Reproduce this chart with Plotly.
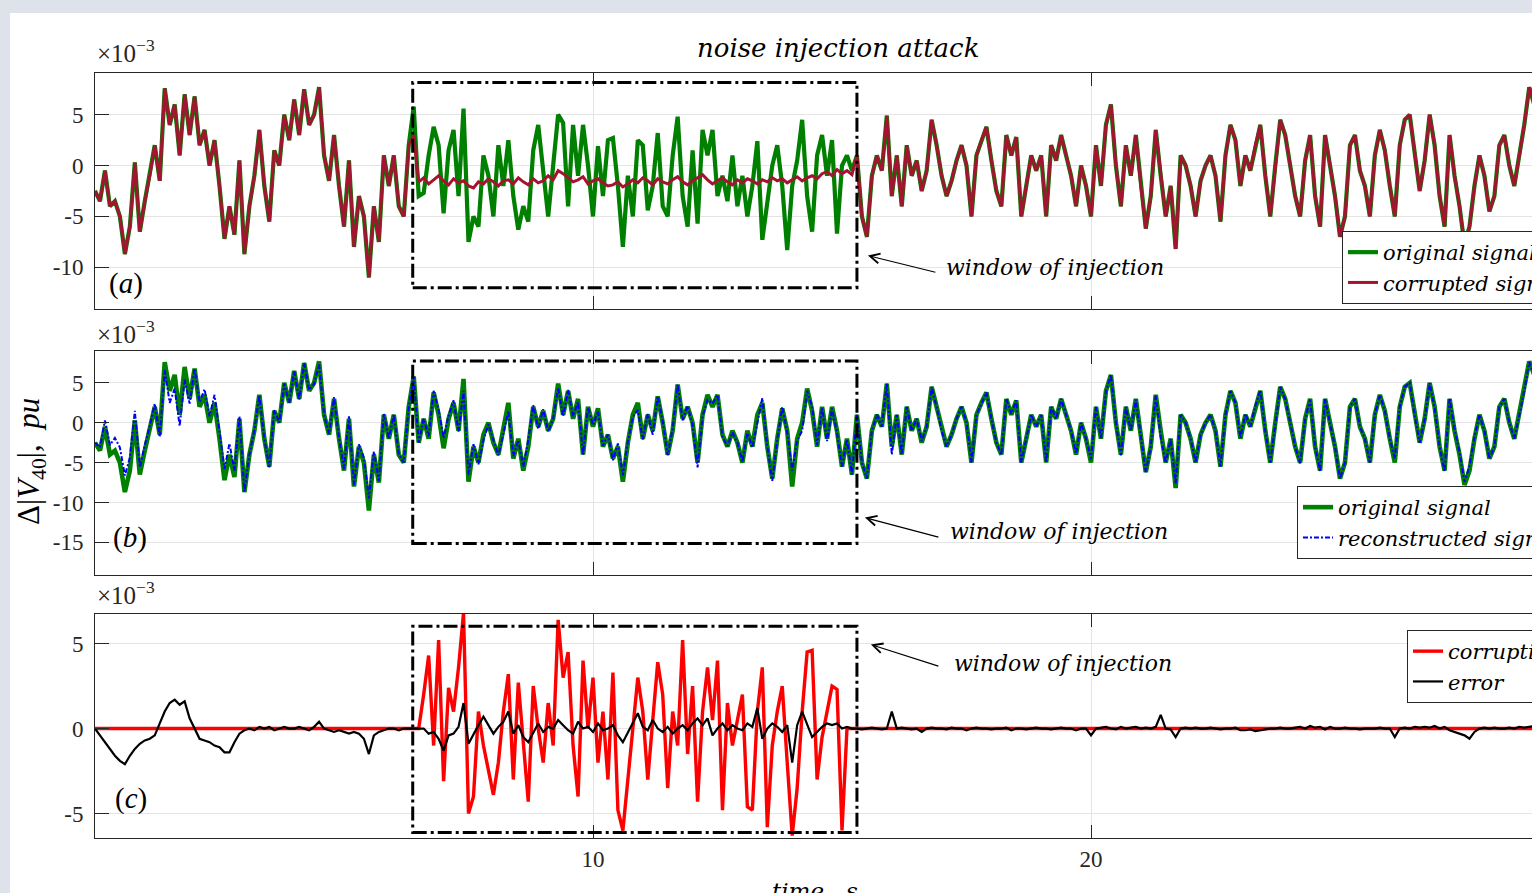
import numpy as np
import plotly.graph_objects as go

# ---------------- data (values in units of 1e-3 pu) ----------------
time_s = np.round(np.arange(0, 29.05, 0.1), 1)          # 0.0 ... 29.0 s
win_start, win_end = 6.38, 15.3                           # window of injection

# original signal (outside / inside / after the window)
original_pre = [-2.5, -3.5, -0.5, -4.0, -3.5, -5.0, -8.7, -6.0, 0.3, -6.5,
                -3.5, -1.0, 2.0, -1.5, 7.6, 4.0, 6.0, 1.0, 7.0, 3.0,
                6.8, 2.0, 3.5, 0.0, 2.5, -2.0, -7.2, -4.0, -6.8, 0.5,
                -8.7, -4.0, -1.0, 3.5, -2.0, -5.5, 1.5, 0.0, 5.0, 2.5,
                6.5, 3.0, 7.5, 4.0, 5.0, 7.7, 1.0, -1.5, 3.0, -2.0,
                -6.0, 0.5, -8.0, -3.0, -5.0, -11.0, -4.0, -7.5, 1.0, -2.0,
                1.0, -4.0, -5.0, 2.0]
original_win = [5.8, -2.5, 0.5, -2.0, 3.8, 1.0,
                -3.2, 0.5, 2.5, -1.0, 5.5, -7.4, -3.0, -5.0, -1.5, 0.0,
                -2.5, -4.0, -1.0, 2.5, -4.5, -2.0, -6.0, -3.0, 2.0, -0.5,
                1.5, -1.0, 0.5, 4.9, 1.0, 4.0, 0.5, 3.0, -4.0, 2.0,
                -0.5, 1.8, -3.0, -1.5, -4.5, -3.0, -7.4, -2.5, 1.0, 2.5,
                -2.0, 1.0, -1.0, 3.3, 0.0, -4.0, -1.0, 4.8, 0.5, 2.0,
                0.0, -5.0, 1.0, 3.5, 2.0, 3.5, -1.5, -3.0, -1.0, -2.5,
                -5.0, -1.0, -3.0, 1.0, 2.5, -3.0, -7.0, -2.0, 1.8, -1.0,
                -8.0, -2.0, 0.0, 4.3, 1.5, -3.0, 2.0, -2.0, 2.0, -1.0,
                -5.5, -2.0, -6.5]
original_post = [1.0, -5.0, -7.0, -1.0, 1.0, -0.5, 4.9,
                 -3.0, 1.0, -4.0, 2.0, -1.0, 0.5, -2.5, -0.5, 4.5, 2.0,
                 -1.0, -3.0, -1.5, 0.5, 2.0, 0.0, -5.0, 1.0, 2.5, 3.8,
                 0.5, -2.5, -4.0, 3.0, 1.0, 2.8, -5.0, -2.0, 1.0, -0.5,
                 1.0, -5.0, 2.0, 0.5, 3.0, 1.0, -1.0, -4.0, 0.0, -2.0,
                 -5.0, 2.0, -2.0, 4.0, 6.0, 0.0, -4.0, 2.0, -1.0, 3.0,
                 -2.0, -6.2, -3.0, 3.5, -1.0, -5.0, -2.0, -8.2, 1.0, 0.0,
                 -2.0, -5.0, -1.5, 0.0, 1.0, -1.0, -5.5, 1.0, 4.0, 2.5,
                 -2.0, 1.0, -0.5, 2.0, 4.0, -1.0, -5.0, 0.0, 4.5, 3.0,
                 0.0, -3.0, -5.0, 0.5, 3.0, -3.0, -6.0, 3.0, 0.0, -3.0,
                 -7.0, -5.0, 2.0, 3.0, -0.5, -2.0, -5.0, 1.0, 3.5, 1.5,
                 -2.0, -5.0, 2.0, 4.5, 5.0, 1.0, -2.5, 0.5, 5.0, 2.0,
                 -3.0, -6.0, 3.0, -1.0, -4.0, -7.8, -6.0, -2.0, 1.0, -1.0,
                 -4.5, -3.0, 2.0, 3.0, 0.0, -2.0, 1.0, 4.0, 7.7, 6.0,
                 8.0]

# panel (a): signals inside the window
a_original_win = [5.8, -3.0, -2.7, 1.0, 3.8, 2.0,
                  -4.7, 1.5, 3.5, -3.0, 5.6, -7.5, -5.0, -6.0, 1.0, -1.0,
                  -5.0, 2.0, -2.0, 2.5, -3.0, -6.3, -4.0, -5.5, 1.5, 4.0,
                  -1.0, -5.0, 0.0, 5.0, 4.2, -4.0, 4.0, -1.0, 4.0, 0.0,
                  -5.0, 1.9, -3.0, 2.5, 2.7, -2.0, -8.0, -1.0, -5.0, 2.5,
                  2.0, -4.4, -2.0, 3.2, -4.0, -5.0, 1.0, 4.8, -3.0, -6.0,
                  1.5, -5.7, 3.5, 1.0, 3.5, -3.0, -1.0, -3.5, 1.0, -4.0,
                  -1.0, -5.0, -2.0, 2.4, -7.3, -4.0, 0.0, 2.0, -2.0, -8.3,
                  -2.0, 0.5, 4.5, -3.0, -6.5, 1.0, 3.0, -1.0, 2.5, -6.7,
                  0.0, 1.0, -0.5]
a_corrupted_win = [3.0, -1.6, -1.2, -1.8, -1.4, -1.0,
                   -1.5, -1.9, -1.3, -1.7, -1.5, -2.0, -2.2, -1.6, -1.8, -1.3,
                   -1.6, -2.0, -1.5, -1.4, -1.8, -1.2, -1.6, -1.9, -1.3, -1.7,
                   -1.5, -1.0, -1.4, -0.5, -0.8, -1.2, -1.6, -1.4, -1.1, -1.8,
                   -1.5, -1.3, -1.7, -2.0, -1.9, -1.6, -2.1, -1.8, -1.4, -1.7,
                   -1.2, -1.5, -1.9, -1.3, -1.6, -1.8, -1.4, -1.1, -1.6, -1.9,
                   -1.5, -1.2, -0.9, -1.4, -1.8, -1.5, -1.2, -1.6, -1.9, -1.4,
                   -1.7, -1.3, -1.5, -1.8, -1.4, -1.6, -1.2, -1.5, -1.3, -1.7,
                   -1.4, -1.1, -1.5, -1.2, -1.0, -1.3, -0.8, -0.6, -1.0, -0.4,
                   -0.8, -0.5, -0.9]

# panel (b): reconstructed signal
reconstructed_pre = [-2.5, -3.1, 0.3, -2.8, -1.9, -3.1, -6.6, -4.4, 1.5, -5.6,
                     -2.8, -0.4, 2.4, -1.8, 6.6, 2.5, 4.3, -0.4, 5.4, 2.4,
                     6.8, 2.6, 4.2, 0.8, 3.5, -0.9, -5.8, -2.6, -6.0, 0.8,
                     -8.6, -4.0, -0.9, 3.4, -2.0, -5.6, 1.6, 0.0, 4.9, 2.5,
                     6.5, 2.9, 7.5, 4.1, 4.9, 7.3, 1.0, -1.4, 3.2, -1.9,
                     -5.8, 0.8, -7.8, -2.7, -4.4, -9.5, -3.6, -7.3, 1.1, -2.0,
                     1.0, -3.9, -5.0, 2.0]
reconstructed_win = [5.8, -2.5, 0.5, -1.7, 4.0, 1.6,
                     -1.9, 0.9, 2.8, -1.1, 4.0, -6.5, -2.7, -5.2, -2.2, -0.2,
                     -2.2, -4.1, -1.4, 1.5, -4.2, -2.2, -5.5, -2.2, 2.2, -0.8,
                     1.7, -1.1, 0.5, 4.4, 0.8, 4.1, 0.8, 2.6, -4.0, 1.9,
                     -0.3, 1.5, -2.9, -1.5, -4.7, -2.6, -6.6, -2.3, 0.7, 1.6,
                     -2.1, 1.1, -1.5, 3.3, 0.2, -4.1, -0.7, 4.8, 0.3, 2.1,
                     -0.3, -5.6, 0.8, 2.9, 2.4, 3.5, -1.8, -2.9, -1.2, -2.5,
                     -4.9, -1.3, -3.1, -0.2, 3.1, -3.0, -7.3, -2.1, 2.0, -1.2,
                     -6.0, -2.2, -1.0, 4.0, 2.0, -2.8, 1.9, -2.3, 1.8, -1.3,
                     -5.5, -2.1, -6.5]
reconstructed_post = [1.0, -5.0, -7.0, -1.0, 1.0, -0.5, 4.9,
                      -4.0, 1.0, -4.0, 2.0, -1.0, 0.5, -2.3, -0.5, 4.5, 2.0,
                      -1.0, -3.0, -1.5, 0.5, 2.0, 0.1, -5.0, 1.0, 2.5, 3.8,
                      0.5, -2.5, -4.0, 3.0, 1.1, 2.8, -5.0, -2.0, 1.0, -0.5,
                      1.0, -5.0, 2.0, 0.5, 3.0, 1.0, -1.0, -3.9, 0.0, -2.0,
                      -4.6, 2.0, -2.0, 3.9, 6.0, 0.0, -4.1, 2.0, -1.0, 2.9,
                      -2.0, -6.2, -3.0, 3.4, -1.8, -5.0, -2.0, -7.7, 1.0, 0.0,
                      -2.0, -5.0, -1.5, 0.0, 1.0, -1.0, -5.5, 1.0, 4.0, 2.5,
                      -1.9, 1.1, -0.5, 2.1, 4.1, -1.0, -5.0, 0.0, 4.5, 3.0,
                      0.0, -3.0, -5.1, 0.5, 2.9, -3.0, -6.1, 3.0, -0.1, -3.0,
                      -7.0, -5.0, 2.0, 3.0, -0.5, -2.0, -5.0, 1.0, 3.5, 1.5,
                      -2.0, -4.5, 2.0, 4.5, 5.0, 0.9, -2.5, 0.4, 5.0, 1.9,
                      -3.0, -6.1, 3.1, -0.8, -3.7, -7.4, -5.4, -1.8, 1.0, -1.0,
                      -4.5, -3.0, 2.0, 3.0, 0.0, -2.0, 0.9, 4.0, 7.6, 5.9,
                      7.9]

# panel (c): corruption (zero outside the window) and reconstruction error
corruption_win = [0.0, 0.0, 2.0, 4.3, -1.0, 5.2,
                  -3.1, 2.4, 1.0, 3.6, 6.8, -5.0, -4.0, 1.0, -1.0, -2.5,
                  -3.9, -2.0, 1.0, 3.2, -3.0, 2.7, -1.0, -4.3, 2.5, 0.0,
                  -2.0, 1.5, -1.0, 6.4, 3.0, 4.5, -1.0, -4.0, 4.0, 0.0,
                  3.0, -2.0, 1.0, -3.0, 3.3, -4.8, -6.0, -3.0, 0.5, 3.0,
                  1.0, -3.0, 0.5, 3.9, 2.0, -3.5, 1.0, -1.0, 5.2, -1.5,
                  2.5, -4.3, 1.0, 3.6, 0.5, 4.0, -4.8, 1.5, -1.0, 0.5,
                  2.0, -4.6, -4.8, 1.0, 3.6, -5.8, -1.0, 1.0, 2.5, -2.0,
                  -6.3, -3.5, 1.0, 4.5, 4.6, -3.0, -0.5, 1.0, 2.5, 2.3,
                  -6.0, 0.0, 0.0]
error_pre = [0.0, -0.4, -0.8, -1.2, -1.6, -1.9, -2.1, -1.6, -1.2, -0.9,
             -0.7, -0.6, -0.4, 0.3, 1.0, 1.5, 1.7, 1.4, 1.6, 0.6,
             0.0, -0.6, -0.7, -0.8, -1.0, -1.1, -1.4, -1.4, -0.8, -0.3,
             -0.1, 0.0, -0.1, 0.1, 0.0, 0.1, -0.1, 0.0, 0.1, 0.0,
             0.0, 0.1, 0.0, -0.1, 0.1, 0.4, 0.0, -0.1, -0.2, -0.1,
             -0.2, -0.3, -0.2, -0.3, -0.6, -1.5, -0.4, -0.2, -0.1, 0.0,
             0.0, -0.1, 0.0, 0.0]
error_win = [0.0, 0.0, 0.0, -0.3, -0.2, -0.6,
             -1.3, -0.4, -0.3, 0.1, 1.5, -0.9, -0.3, 0.2, 0.7, 0.2,
             -0.3, 0.1, 0.4, 1.0, -0.3, 0.2, -0.5, -0.8, -0.2, 0.3,
             -0.2, 0.1, 0.0, 0.5, 0.2, -0.1, -0.3, 0.4, 0.0, 0.1,
             -0.2, 0.3, -0.1, 0.0, 0.2, -0.4, -0.8, -0.2, 0.3, 0.9,
             0.1, -0.1, 0.5, 0.0, -0.2, 0.1, -0.3, 0.0, 0.2, -0.1,
             0.3, 0.6, 0.2, 0.6, -0.4, 0.0, 0.3, -0.1, 0.2, 0.0,
             -0.1, 0.3, 0.1, 1.2, -0.6, 0.0, 0.3, 0.1, -0.2, 0.2,
             -2.0, 0.2, 1.0, 0.3, -0.5, -0.2, 0.1, 0.3, 0.2, 0.3,
             0.0, 0.1, 0.0]
error_post = [0.0, -0.05, 0.0, 0.05, 0.0, -0.05, 0.0,
              1.0, 0.0, 0.05, 0.0, -0.05, 0.0, -0.2, 0.0, 0.05, 0.0,
              0.0, -0.05, 0.05, 0.0, 0.0, -0.1, 0.0, 0.05, 0.0, 0.0,
              -0.05, 0.0, 0.0, 0.05, -0.1, 0.0, 0.0, -0.05, 0.0, 0.05,
              0.0, 0.0, -0.05, 0.0, 0.05, 0.0, 0.0, -0.1, 0.0, 0.0,
              -0.4, 0.0, 0.05, 0.1, 0.0, -0.05, 0.1, 0.0, 0.05, 0.1,
              0.0, 0.05, 0.0, 0.1, 0.8, 0.0, -0.05, -0.5, 0.0, 0.05,
              0.0, 0.05, 0.0, 0.0, 0.05, 0.0, -0.05, 0.0, 0.0, 0.05,
              -0.1, -0.1, -0.05, -0.15, -0.1, -0.05, 0.0, 0.0, 0.05, 0.0,
              0.0, 0.05, 0.1, 0.0, 0.15, 0.05, 0.1, -0.05, 0.1, 0.0,
              0.0, 0.05, 0.0, 0.0, -0.05, 0.0, 0.0, 0.0, 0.05, 0.0,
              0.0, -0.5, 0.0, 0.05, 0.0, 0.1, 0.05, 0.1, 0.05, 0.15,
              0.0, 0.1, -0.1, -0.2, -0.3, -0.4, -0.6, -0.2, 0.0, 0.05,
              0.0, 0.05, 0.0, 0.0, 0.05, 0.0, 0.1, 0.05, 0.1, 0.15,
              0.1]

# assembled series
a_original = np.array(original_pre + a_original_win + original_post)
a_corrupted = np.array(original_pre + a_corrupted_win + original_post)
b_original = np.array(original_pre + original_win + original_post)
b_reconstructed = np.array(reconstructed_pre + reconstructed_win + reconstructed_post)
c_corruption = np.concatenate([np.zeros(len(original_pre)), corruption_win,
                               np.zeros(len(original_post))])
c_error = np.array(error_pre + error_win + error_post)

# ---------------- layout helpers ----------------
W, H = 1532, 893
ML, MT, MB = 95, 73, 55
PW, PH = W - ML, H - MT - MB


def px_x(p):
    return (p - ML) / PW


def px_y(p):
    return (H - MB - p) / PH


AXC = "#262626"
GRID = "#e4e4e4"
SERIF = "Liberation Serif"
ITAL = dict(family="DejaVu Serif", size=22, color="black", style="italic")
LEGF = dict(family="DejaVu Serif", size=21, color="black", style="italic")
TICKF = dict(family=SERIF, size=23, color=AXC)

GREEN, DRED, BLUE, RED = "#008000", "#a2142f", "#0000ff", "#ff0000"

fig = go.Figure()
fig.add_trace(go.Scatter(x=time_s, y=a_original, mode="lines", name="original signal",
                         line=dict(color=GREEN, width=4.2), xaxis="x", yaxis="y", legend="legend"))
fig.add_trace(go.Scatter(x=time_s, y=a_corrupted, mode="lines", name="corrupted signal",
                         line=dict(color=DRED, width=3.0), xaxis="x", yaxis="y", legend="legend"))
fig.add_trace(go.Scatter(x=time_s, y=b_original, mode="lines", name="original signal",
                         line=dict(color=GREEN, width=4.6), xaxis="x2", yaxis="y2", legend="legend2"))
fig.add_trace(go.Scatter(x=time_s, y=b_reconstructed, mode="lines", name="reconstructed signal",
                         line=dict(color=BLUE, width=2.0, dash="5px,2px,2px,2px"),
                         xaxis="x2", yaxis="y2", legend="legend2"))
fig.add_trace(go.Scatter(x=time_s, y=c_corruption, mode="lines", name="corruption",
                         line=dict(color=RED, width=3.4), xaxis="x3", yaxis="y3", legend="legend3"))
fig.add_trace(go.Scatter(x=time_s, y=c_error, mode="lines", name="error",
                         line=dict(color="black", width=2.2), xaxis="x3", yaxis="y3", legend="legend3"))

xcommon = dict(range=[0, PW / 49.8], tickvals=[10, 20], ticktext=["10", "20"],
               showgrid=True, gridcolor=GRID, gridwidth=1, zeroline=False,
               ticks="inside", ticklen=13, tickcolor=AXC, tickwidth=1,
               showline=True, linecolor=AXC, linewidth=1, mirror="ticks",
               tickfont=TICKF)
ycommon = dict(showgrid=True, gridcolor=GRID, gridwidth=1, zeroline=False,
               ticks="inside", ticklen=14, tickcolor=AXC, tickwidth=1,
               showline=True, linecolor=AXC, linewidth=1, mirror=True,
               tickfont=TICKF, ticklabelstandoff=6)

legend_common = dict(bgcolor="white", bordercolor=AXC, borderwidth=1,
                     font=LEGF, xanchor="left", yanchor="top", tracegroupgap=0)

fig.update_layout(
    width=W, height=H, template="none",
    margin=dict(l=ML, r=0, t=MT, b=MB, autoexpand=False),
    paper_bgcolor="white", plot_bgcolor="white",
    xaxis=dict(xcommon, anchor="y", showticklabels=False),
    xaxis2=dict(xcommon, anchor="y2", matches="x", showticklabels=False),
    xaxis3=dict(xcommon, anchor="y3", matches="x"),
    yaxis=dict(ycommon, domain=[px_y(309), 1.0], range=[-14.1, 9.1],
               tickvals=[-10, -5, 0, 5], ticktext=["-10", "-5", "0", "5"]),
    yaxis2=dict(ycommon, domain=[px_y(575), px_y(351)], range=[-19.1, 9.0],
                tickvals=[-15, -10, -5, 0, 5], ticktext=["-15", "-10", "-5", "0", "5"]),
    yaxis3=dict(ycommon, domain=[0.0, px_y(614)], range=[-6.44, 6.74],
                tickvals=[-5, 0, 5], ticktext=["-5", "0", "5"]),
    showlegend=True,
    legend=dict(legend_common, x=px_x(1342), y=px_y(231)),
    legend2=dict(legend_common, x=px_x(1297), y=px_y(486)),
    legend3=dict(legend_common, x=px_x(1407), y=px_y(630)),
)

# window-of-injection boxes
box_dash = "14px,4px,3px,4px"
for yref, y0, y1 in [("y", -12.0, 8.17), ("y2", -15.16, 7.76), ("y3", -6.12, 6.02)]:
    fig.add_shape(type="rect", xref=yref.replace("y", "x"), yref=yref,
                  x0=win_start, x1=win_end, y0=y0, y1=y1,
                  line=dict(color="black", width=3, dash=box_dash))

# grey page border (top and left)
BG = "#dde2eb"
fig.add_shape(type="rect", xref="paper", yref="paper", x0=px_x(-2), x1=px_x(10),
              y0=px_y(H + 5), y1=px_y(-5), fillcolor=BG, line=dict(width=0), layer="below")
fig.add_shape(type="rect", xref="paper", yref="paper", x0=px_x(-2), x1=px_x(W + 5),
              y0=px_y(13), y1=px_y(-5), fillcolor=BG, line=dict(width=0), layer="below")

ann = []
# title
ann.append(dict(xref="paper", yref="paper", x=px_x(838), y=px_y(48), text="noise injection attack",
                showarrow=False, xanchor="center", yanchor="middle",
                font=dict(family="DejaVu Serif", size=26, color="black", style="italic")))
# exponent labels
for ybot in (69, 350, 611):
    ann.append(dict(xref="paper", yref="paper", x=px_x(95), y=px_y(ybot),
                    text="×10<sup>−3</sup>", showarrow=False, xanchor="left", yanchor="bottom",
                    font=dict(family=SERIF, size=25, color=AXC)))
# panel letters
for lab, xc, yc in (("a", 126, 283), ("b", 130, 537), ("c", 131, 798)):
    ann.append(dict(xref="paper", yref="paper", x=px_x(xc), y=px_y(yc),
                    text="(<i>%s</i>)" % lab, showarrow=False, xanchor="center", yanchor="middle",
                    font=dict(family=SERIF, size=29, color="black")))
# arrows and "window of injection" texts
for xr, yr, hx, hy, ax, ay, tx, ty in (
        ("x", "y", 15.52, -8.85, 69, 17, 17.05, -10.03),
        ("x2", "y2", 15.46, -11.9, 75, 20, 17.13, -13.66),
        ("x3", "y3", 15.58, 4.94, 69, 22, 17.21, 3.82)):
    ann.append(dict(xref=xr, yref=yr, x=hx, y=hy, ax=ax, ay=ay, text="", showarrow=True,
                    arrowhead=5, arrowsize=1.6, arrowwidth=1.2, arrowcolor="black", standoff=0))
    ann.append(dict(xref=xr, yref=yr, x=tx, y=ty, text="window of injection", showarrow=False,
                    xanchor="left", yanchor="middle", font=ITAL))
# axis titles
ann.append(dict(xref="paper", yref="paper", x=px_x(31), y=px_y(462),
                text="Δ|<i>V</i><sub>40</sub>|,  <i>pu</i>", textangle=-90, showarrow=False,
                xanchor="center", yanchor="middle", font=dict(family=SERIF, size=31, color="black")))
ann.append(dict(xref="paper", yref="paper", x=px_x(815), y=px_y(876),
                text="time,  s", showarrow=False, xanchor="center", yanchor="top",
                font=dict(family="DejaVu Serif", size=23, color="black", style="italic")))
fig.update_layout(annotations=ann)

fig.write_html("out.html")
